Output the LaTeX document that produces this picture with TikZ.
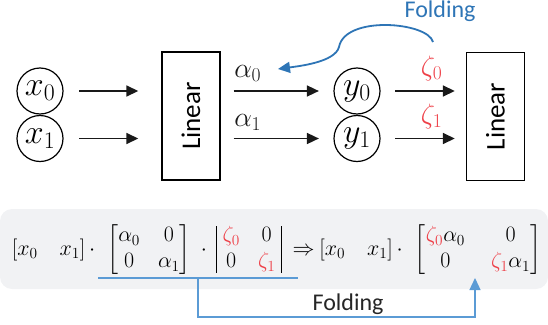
\RequirePackage{fix-cm}
\documentclass[tikz,border=0pt]{standalone}
\usepackage{amsmath}
\usepackage[no-math]{fontspec}
\newfontfamily\calibri{Carlito}
\usetikzlibrary{arrows.meta, positioning, calc}
\definecolor{foldblue}{RGB}{46,117,182}
\definecolor{linkblue}{RGB}{91,155,213}
\definecolor{zetared}{RGB}{238,64,72}
\definecolor{panelgray}{RGB}{241,242,244}
\newcommand{\zr}[1]{\textcolor{zetared}{#1}}

\begin{document}
\begin{tikzpicture}
            [x=1pt, y=-1pt, >={Triangle[length=12pt,width=11pt]},
            neuron/.style={circle, draw, line width=1.2pt, minimum size=46pt, inner sep=0pt, font=\fontsize{34}{38}\selectfont},
            linbox/.style={rectangle, draw, line width=1.4pt, minimum width=58pt, minimum height=128pt, font=\calibri\fontsize{27}{30}\selectfont},
            flow/.style={->, line width=1.6pt, black!90},
            wlabel/.style={font=\fontsize{28}{32}\selectfont, inner sep=0pt},
            eqpart/.style={anchor=base, inner sep=0pt, font=\fontsize{22}{26}\selectfont},
            foldtext/.style={font=\calibri\fontsize{24}{28}\selectfont}]

            \useasboundingbox (0,0) rectangle (548,324);

            % network
            \node[neuron] (x0) at (40,91) {$x_0$};
            \node[neuron] (x1) at (40,138.5) {$x_1$};
            \node[linbox] (lin1) at (191,116) {\rotatebox{90}{Linear}};
            \node[neuron] (y0) at (357,91) {$y_0$};
            \node[neuron] (y1) at (357,138.5) {$y_1$};
            \node[linbox] (lin2) at (495.5,116.5) {\rotatebox{90}{Linear}};

            \draw[flow, shorten <=15.5pt, shorten >=23pt] (x0) -- (x0 -| lin1.west);
            \draw[flow, shorten <=15.5pt, shorten >=23pt] (x1) -- (x1 -| lin1.west);
            \draw[flow, shorten <=13pt, shorten >=14.5pt] (y0 -| lin1.east) -- (y0)
                node[wlabel, pos=0.24, above=9pt] (a0) {$\alpha_0$};
            \draw[flow, shorten <=13pt, shorten >=14.5pt] (y1 -| lin1.east) -- (y1)
                node[wlabel, pos=0.24, above=7pt] (a1) {$\alpha_1$};
            \draw[flow, shorten <=14.5pt, shorten >=11pt] (y0) -- (y0 -| lin2.west)
                node[wlabel, pos=0.6, above=9pt, text=zetared] (z0) {$\zeta_0$};
            \draw[flow, shorten <=14.5pt, shorten >=11pt] (y1) -- (y1 -| lin2.west)
                node[wlabel, pos=0.6, above=9pt, text=zetared] (z1) {$\zeta_1$};

            % folding arrow on top
            \node[foldtext, text=foldblue, anchor=base] (foldTop) at (440,17) {Folding};
            \coordinate (foldTail) at (433,42);
            \coordinate (foldTip) at (278,69);
            \draw[->, foldblue, line width=1.8pt] (foldTail) .. controls (428,22) and (345,15) .. (339,47)
                .. controls (335,62) and (300,66) .. (foldTip);

            % equation panel
            \fill[panelgray, rounded corners=12pt] (0,209) rectangle (548,289);
            \setlength{\arraycolsep}{9pt}
            \node[eqpart] (rowL) at (53.5,255) {$[x_0\quad x_1]\,\cdot$};
            \node[eqpart] (matA) at (149,255) {$\begin{bmatrix}\alpha_0 & 0\\ 0 & \alpha_1\end{bmatrix}$};
            \node[eqpart] (dotB) at (204,255) {$\cdot$};
            \node[eqpart, inner xsep=6pt, inner ysep=1pt] (matZ) at (249,255) {$\begin{matrix}\zr{\zeta_0} & 0\\ 0 & \zr{\zeta_1}\end{matrix}$};
            \draw[line width=0.9pt, shorten <=4pt, shorten >=4pt] (matZ.north west) -- (matZ.south west);
            \draw[line width=0.9pt, shorten <=4pt, shorten >=4pt] (matZ.north east) -- (matZ.south east);
            \node[eqpart] (impl) at (303.5,255) {$\Rightarrow$};
            \node[eqpart] (rowR) at (361,255) {$[x_0\quad x_1]\,\cdot$};
            \node[eqpart] (matR) at (478,255) {\setlength{\arraycolsep}{13pt}$\begin{bmatrix}\zr{\zeta_0}\alpha_0 & 0\\ 0 & \zr{\zeta_1}\alpha_1\end{bmatrix}$};

            % folding link below
            \coordinate (underL) at (98,278);
            \coordinate (underR) at (298,278);
            \coordinate (underM) at (198,278);
            \coordinate (foldEnd) at (475,278);
            \draw[linkblue, line width=1.1pt] (underL) -- (underR);
            \draw[->, linkblue, line width=1.3pt] (underM) -- ++(0,39) -| (foldEnd);
            \node[foldtext, text=black!85, anchor=base] (foldBot) at (348,310) {Folding};
\end{tikzpicture}
\end{document}
